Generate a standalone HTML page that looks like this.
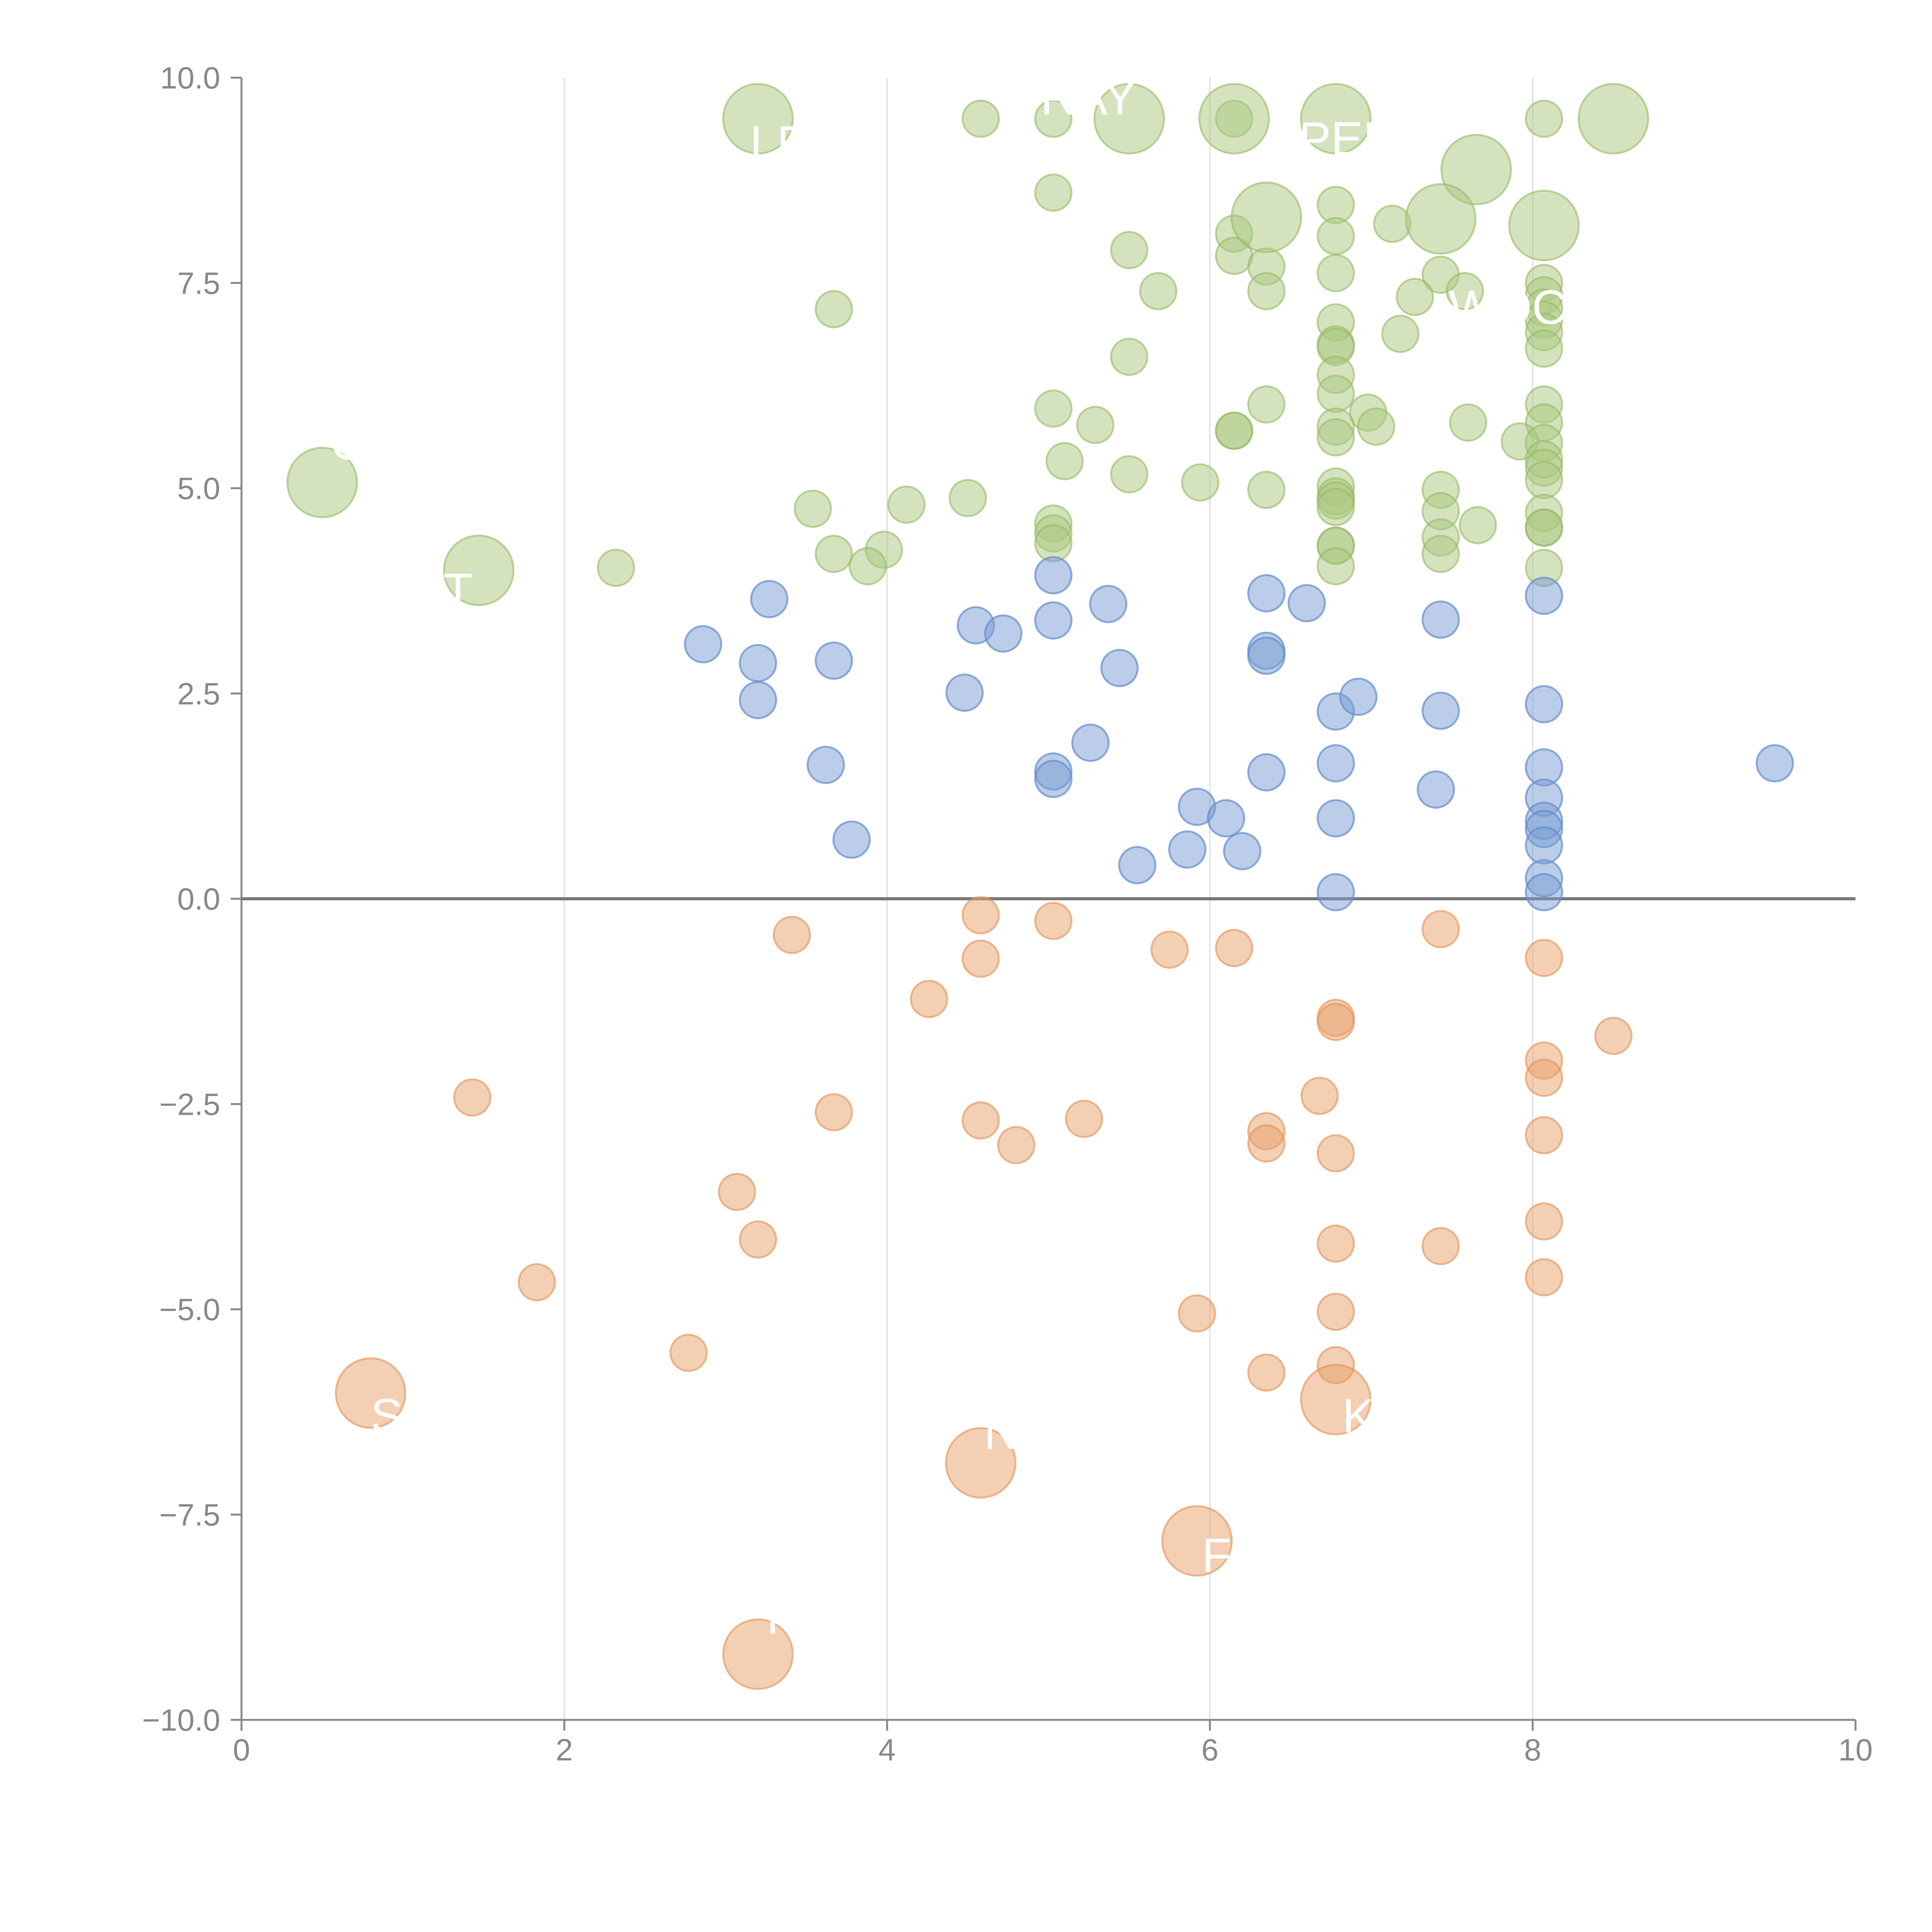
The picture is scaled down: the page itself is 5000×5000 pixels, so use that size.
<!DOCTYPE html>
<html><head><meta charset="utf-8">
<style>html,body{margin:0;padding:0;background:#fff}svg{display:block}</style>
</head><body>
<svg id="chart" width="5000" height="5000" xmlns="http://www.w3.org/2000/svg" font-family="Liberation Sans, sans-serif"></svg>
<script>
const xTicks=[0,2,4,6,8,10];
const xTickLabels=["0","2","4","6","8","10"];
const yTicks=[-10,-7.5,-5,-2.5,0,2.5,5,7.5,10];
const yTickLabels=["\u221210.0","\u22127.5","\u22125.0","\u22122.5","0.0","2.5","5.0","7.5","10.0"];
const greenX=[4.58,5.03,6.15,8.07,5.03,6.78,6.15,6.78,7.13,5.5,6.15,6.35,6.78,7.43,7.58,5.68,6.35,7.27,3.67,6.78,8.07,8.07,8.07,8.07,8.07,7.18,6.78,6.78,8.07,5.5,6.78,6.78,6.35,5.03,8.07,6.98,7.03,5.29,6.15,6.15,7.6,8.07,6.78,6.78,7.92,8.07,8.07,8.07,5.1,5.5,5.94,8.07,6.78,6.35,7.43,6.78,6.78,6.78,4.5,4.12,3.54,7.43,8.07,5.03,5.03,5.03,7.66,8.07,8.07,7.43,6.78,6.78,3.67,3.98,7.43,2.32,3.88,6.78,8.07];
const greenY=[9.5,9.5,9.5,9.5,8.6,8.45,8.1,8.07,8.22,7.9,7.83,7.7,7.62,7.6,7.4,7.4,7.4,7.33,7.18,7.02,7.5,7.35,7.2,7.05,6.9,6.88,6.75,6.72,6.7,6.6,6.38,6.15,6.02,5.97,6.02,5.92,5.75,5.77,5.7,5.7,5.8,5.8,5.75,5.62,5.57,5.55,5.35,5.25,5.33,5.17,5.07,5.1,5.02,4.98,4.98,4.9,4.85,4.77,4.88,4.8,4.75,4.72,4.7,4.57,4.45,4.33,4.55,4.52,4.52,4.4,4.3,4.3,4.2,4.25,4.2,4.03,4.05,4.05,4.03];
const greenBigX=[3.2,5.5,6.15,6.78,8.5,7.65,6.35,7.43,8.07,0.5,1.47];
const greenBigY=[9.5,9.5,9.5,9.5,9.5,8.88,8.3,8.28,8.2,5.07,4.0];
const blueX=[3.27,2.86,3.2,3.2,3.67,4.55,4.72,4.48,5.03,5.03,5.37,5.44,5.26,5.03,5.03,3.62,3.78,5.55,5.86,5.92,6.1,6.2,6.35,6.35,6.35,6.35,6.6,6.78,6.92,6.78,6.78,6.78,7.43,7.43,7.4,8.07,8.07,8.07,8.07,8.07,8.07,8.07,8.07,8.07,9.5];
const blueY=[3.65,3.1,2.87,2.42,2.9,3.33,3.23,2.51,3.94,3.39,3.59,2.81,1.9,1.55,1.46,1.63,0.72,0.41,0.6,1.12,0.98,0.58,3.72,3.02,2.96,1.54,3.6,2.28,2.46,1.65,0.98,0.08,3.4,2.29,1.33,3.69,2.37,1.6,1.23,0.95,0.85,0.65,0.25,0.08,1.65];
const orangeX=[3.41,4.58,4.58,5.03,5.75,6.15,7.43,8.07,4.26,6.78,6.78,8.5,8.07,8.07,1.43,3.67,4.58,4.8,5.22,6.68,6.35,6.35,6.78,8.07,3.07,3.2,1.83,6.78,7.43,8.07,8.07,5.92,6.78,2.77,6.35,6.78];
const orangeY=[-0.44,-0.2,-0.73,-0.27,-0.62,-0.6,-0.37,-0.72,-1.22,-1.45,-1.5,-1.67,-1.97,-2.18,-2.42,-2.6,-2.7,-3.0,-2.68,-2.4,-2.83,-2.98,-3.1,-2.88,-3.57,-4.15,-4.67,-4.2,-4.23,-3.93,-4.61,-5.05,-5.03,-5.53,-5.77,-5.68];
const orangeBigX=[0.8,6.78,4.58,5.92,3.2];
const orangeBigY=[-6.02,-6.1,-6.87,-7.82,-9.2];
const labelText=["LE","RAY","PEF","WOC","C","T","S","K","N","F","T"];
const labelX=[3.15,4.95,6.55,7.48,0.55,1.25,0.8,6.82,4.6,5.95,3.2];
const labelY=[9.0,9.55,9.05,7.0,5.35,3.55,-6.5,-6.5,-6.7,-8.2,-8.95];

const NS="http://www.w3.org/2000/svg";
const svg=document.getElementById('chart');
const X0=625,X1=4802,Y0=4451,Y1=201;
const sx=v=>X0+(v-0)/10*(X1-X0);
const sy=v=>Y0-(v+10)/20*(Y0-Y1);
function mk(tag,attrs){const e=document.createElementNS(NS,tag);for(const k in attrs)e.setAttribute(k,attrs[k]);svg.appendChild(e);return e;}

xTicks.forEach((t,i)=>{ if(t>0&&t<10){const g=mk('line',{x1:sx(t),x2:sx(t),y1:Y1,y2:Y0,stroke:'#dcdcdc','stroke-width':3});

}});
const ya=mk('line',{x1:X0,x2:X0,y1:Y1,y2:Y0,stroke:'#888','stroke-width':5});


const xa=mk('line',{x1:X0,x2:X1,y1:Y0,y2:Y0,stroke:'#888','stroke-width':5});


xTicks.forEach((t,i)=>{
 const l=mk('line',{x1:sx(t),x2:sx(t),y1:Y0,y2:Y0+28,stroke:'#888','stroke-width':5});
 
 
 const tx=mk('text',{x:sx(t),y:Y0+105,'text-anchor':'middle','font-size':80,fill:'#888'});tx.textContent=xTickLabels[i];
 
 
});
yTicks.forEach((t,i)=>{
 const l=mk('line',{x1:X0-28,x2:X0,y1:sy(t),y2:sy(t),stroke:'#888','stroke-width':5});
 
 
 const tx=mk('text',{x:X0-55,y:sy(t)+28,'text-anchor':'end','font-size':80,fill:'#888'});tx.textContent=yTickLabels[i];
 
 
});
const zl=mk('line',{x1:X0,x2:X1,y1:sy(0),y2:sy(0),stroke:'#777','stroke-width':8});



function series(xs,ys,r,fill,stroke,name){
 xs.forEach((x,i)=>{
  const c=mk('circle',{cx:sx(x),cy:sy(ys[i]),r:r,fill:fill,stroke:stroke,'stroke-width':5});
  
  
 });
}
const G=['rgba(170,200,125,0.5)','rgba(150,185,100,0.6)'];
const B=['rgba(120,155,210,0.5)','rgba(100,140,205,0.7)'];
const O=['rgba(232,160,105,0.5)','rgba(225,145,85,0.6)'];
series(greenX,greenY,47,G[0],G[1],'green-bubble');
series(greenBigX,greenBigY,90,G[0],G[1],'green-big-bubble');
series(blueX,blueY,47,B[0],B[1],'blue-bubble');
series(orangeX,orangeY,47,O[0],O[1],'orange-bubble');
series(orangeBigX,orangeBigY,90,O[0],O[1],'orange-big-bubble');
labelText.forEach((s,i)=>{
 const t=mk('text',{x:sx(labelX[i]),y:sy(labelY[i]),'font-size':125,fill:'#fff'});
 t.textContent=s;
 
 
});
</script>
</body></html>
